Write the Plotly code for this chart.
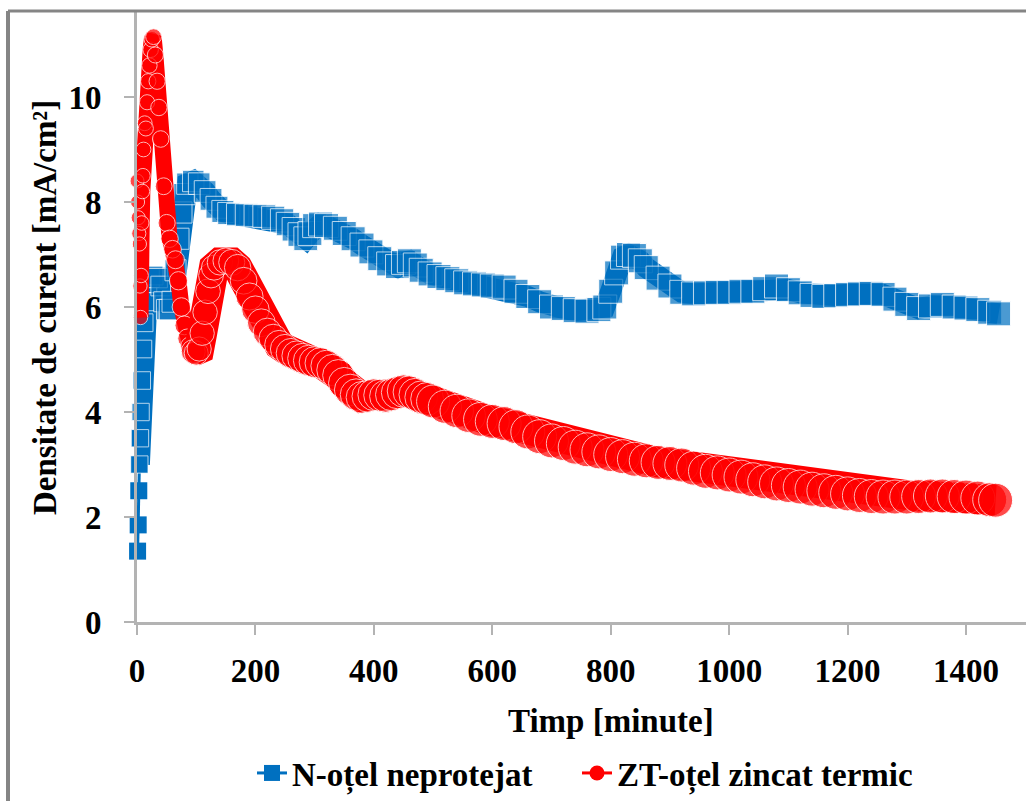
import numpy as np
import plotly.graph_objects as go

# ---------------- data ----------------
n_time = [1, 2, 3, 4, 5, 6, 8, 10, 12, 15, 18, 22, 28, 35, 40, 45, 50, 55, 60, 65, 70, 75, 80, 85,
          95, 105, 115, 125, 135, 145, 155, 170, 185, 200, 215, 230, 245, 255, 265, 275, 285, 292,
          300, 310, 320, 335, 350, 365, 380, 395, 410, 425, 440, 450, 460, 470, 480, 495, 510, 525,
          540, 555, 570, 585, 600, 620, 640, 660, 680, 700, 720, 740, 760, 780, 790, 800, 810, 820,
          830, 840, 850, 860, 880, 900, 920, 940, 960, 980, 1000, 1020, 1040, 1060, 1080, 1100,
          1120, 1140, 1160, 1180, 1200, 1220, 1240, 1260, 1280, 1300, 1320, 1340, 1360, 1380, 1400,
          1420, 1440, 1455]
n_val = [1.35, 1.85, 2.5, 3.0, 3.5, 4.0, 4.6, 5.2, 5.7, 6.1, 6.45, 6.55, 6.6, 6.55, 6.4, 6.1, 5.95,
         5.95, 6.1, 6.7, 7.3, 7.8, 8.15, 8.35, 8.4, 8.35, 8.2, 8.05, 7.9, 7.82, 7.78, 7.76, 7.75,
         7.74, 7.73, 7.7, 7.65, 7.58, 7.48, 7.38, 7.3, 7.4, 7.55, 7.58, 7.55, 7.5, 7.4, 7.3, 7.18,
         7.05, 6.92, 6.82, 6.77, 6.85, 6.88, 6.8, 6.7, 6.63, 6.58, 6.54, 6.5, 6.46, 6.44, 6.42, 6.4,
         6.38, 6.3, 6.2, 6.1, 6.0, 5.97, 5.93, 5.92, 5.95, 6.0, 6.3, 6.65, 6.95, 7.0, 6.98, 6.88,
         6.75, 6.55, 6.4, 6.28, 6.25, 6.27, 6.28, 6.28, 6.3, 6.3, 6.35, 6.4, 6.33, 6.27, 6.22, 6.2,
         6.22, 6.24, 6.25, 6.26, 6.24, 6.15, 6.05, 5.97, 6.02, 6.05, 6.0, 5.98, 5.95, 5.9, 5.87]

zt_time = [0, 1, 2, 3, 4, 5, 6, 7, 8, 9, 10, 11, 13, 15, 17, 19, 21, 23, 25, 28, 31, 34, 37, 40,
           45, 50, 55, 60, 65, 70, 75, 80, 85, 90, 95, 100, 105, 110, 115, 120, 125, 130, 140, 150,
           160, 170, 180, 190, 200, 210, 220, 230, 240, 250, 260, 270, 280, 290, 300, 310, 320, 330,
           340, 350, 360, 370, 380, 390, 400, 410, 420, 430, 440, 450, 460, 470, 480, 490, 500, 520,
           540, 560, 580, 600, 620, 640, 660, 680, 700, 720, 740, 760, 780, 800, 820, 840, 860, 880,
           900, 920, 940, 960, 980, 1000, 1020, 1040, 1060, 1080, 1100, 1120, 1140, 1160, 1180,
           1200, 1220, 1240, 1260, 1280, 1300, 1320, 1340, 1360, 1380, 1400, 1420, 1440, 1450]
zt_val = [8.4, 8.0, 7.7, 7.4, 7.2, 6.4, 5.8, 6.6, 7.6, 8.2, 8.5, 9.0, 9.5, 9.4, 9.9, 10.3, 10.6,
          10.9, 11.1, 11.15, 10.8, 10.3, 9.8, 9.2, 8.3, 7.6, 7.3, 7.1, 6.9, 6.5, 6.0, 5.65, 5.4,
          5.25, 5.15, 5.12, 5.2, 5.5, 5.9, 6.3, 6.6, 6.75, 6.85, 6.88, 6.85, 6.75, 6.5, 6.2, 5.95,
          5.7, 5.52, 5.4, 5.28, 5.2, 5.12, 5.07, 5.02, 4.98, 4.95, 4.93, 4.88, 4.8, 4.7, 4.55, 4.42,
          4.33, 4.28, 4.3, 4.33, 4.32, 4.3, 4.33, 4.37, 4.4, 4.38, 4.33, 4.28, 4.25, 4.2, 4.1, 4.02,
          3.93, 3.86, 3.82, 3.78, 3.72, 3.62, 3.53, 3.45, 3.4, 3.33, 3.28, 3.24, 3.19, 3.15, 3.1,
          3.07, 3.04, 3.02, 2.99, 2.93, 2.87, 2.84, 2.8, 2.76, 2.71, 2.67, 2.63, 2.6, 2.57, 2.53,
          2.5, 2.47, 2.44, 2.41, 2.39, 2.38, 2.38, 2.38, 2.39, 2.4, 2.4, 2.39, 2.38, 2.36, 2.33,
          2.32]

x_ticks = [0, 200, 400, 600, 800, 1000, 1200, 1400]
y_ticks = [0, 2, 4, 6, 8, 10]

name_n = "N-oțel neprotejat"
name_zt = "ZT-oțel zincat termic"
x_title = "Timp [minute]"
y_title = "Densitate de curent [mA/cm²]"

# ---------------- styles ----------------
BLUE = "#0070C0"
RED = "#FF0000"
FONT = dict(family="Liberation Serif, Times New Roman, serif", size=33, color="black", weight="bold")

n_t = np.array(n_time, dtype=float)
zt_t = np.array(zt_time, dtype=float)
n_sizes = np.interp(n_t, [0, 60, 300], [17, 21, 24])
zt_sizes_early = np.interp(zt_t, [0, 30, 100], [14, 16, 20])
zt_sizes_late = np.interp(zt_t, [100, 300, 600], [24, 31, 34])

fig = go.Figure()

# blue: first discrete readings (thin connecting line)
k = 4
fig.add_trace(go.Scatter(
    x=n_time[:k + 1], y=n_val[:k + 1], mode="lines+markers",
    line=dict(color=BLUE, width=3),
    marker=dict(symbol="square", size=17, color=BLUE),
    showlegend=False, cliponaxis=False, hoverinfo="skip"))
# blue: dense band
fig.add_trace(go.Scatter(
    x=n_time[k - 1:], y=n_val[k - 1:], mode="lines+markers",
    line=dict(color=BLUE, width=21),
    marker=dict(symbol="square", size=n_sizes[k - 1:], color=BLUE),
    showlegend=False, cliponaxis=False, hoverinfo="skip"))

# red: early part (narrower band)
split = zt_time.index(100)
fig.add_trace(go.Scatter(
    x=zt_time[:split + 1], y=zt_val[:split + 1], mode="lines+markers",
    line=dict(color=RED, width=16),
    marker=dict(symbol="circle", size=zt_sizes_early[:split + 1], color=RED),
    showlegend=False, cliponaxis=False, hoverinfo="skip"))
# red: later part (wider, noisy band)
fig.add_trace(go.Scatter(
    x=zt_time[split - 1:], y=zt_val[split - 1:], mode="lines+markers",
    line=dict(color=RED, width=30),
    marker=dict(symbol="circle", size=zt_sizes_late[split - 1:], color=RED),
    showlegend=False, cliponaxis=False, hoverinfo="skip"))

# legend entries (one legend each, so both can be placed exactly)
fig.add_trace(go.Scatter(x=[None], y=[None], mode="lines+markers", name=name_n, legend="legend",
                         line=dict(color=BLUE, width=3),
                         marker=dict(symbol="square", size=16, color=BLUE)))
fig.add_trace(go.Scatter(x=[None], y=[None], mode="lines+markers", name=name_zt, legend="legend2",
                         line=dict(color=RED, width=3),
                         marker=dict(symbol="circle", size=15, color=RED)))

L, T, W, H = 137, 12, 889, 610
x_max = 1400 * W / (966 - 137)
y_max = H / 52.5

axis_common = dict(showgrid=False, zeroline=False, showline=True, linecolor="#b3b3b3", linewidth=3,
                   ticks="outside", tickcolor="#b3b3b3", tickwidth=2, ticklen=10,
                   tickfont=FONT, mirror=False)

fig.update_xaxes(range=[0, x_max], tickvals=x_ticks, ticktext=[str(v) for v in x_ticks],
                 ticklabelstandoff=7, **axis_common)
fig.update_yaxes(range=[0, y_max], tickvals=y_ticks, ticktext=[str(v) for v in y_ticks],
                 ticklabelstandoff=16, **axis_common)


def px_to_paper_x(px):
    return (px - L) / W


def px_to_paper_y(py):
    return (T + H - py) / H


fig.add_annotation(text=x_title, xref="paper", yref="paper", x=px_to_paper_x(611), y=px_to_paper_y(721),
                   showarrow=False, font=FONT, xanchor="center", yanchor="middle")
fig.add_annotation(text=y_title, xref="paper", yref="paper", x=px_to_paper_x(45), y=px_to_paper_y(308),
                   showarrow=False, font=FONT, textangle=-90, xanchor="center", yanchor="middle")

# outer chart frame (left and top edges visible)
fig.add_shape(type="line", xref="paper", yref="paper",
              x0=px_to_paper_x(8), x1=px_to_paper_x(8), y0=px_to_paper_y(11), y1=px_to_paper_y(820),
              line=dict(color="#858585", width=4))
fig.add_shape(type="line", xref="paper", yref="paper",
              x0=px_to_paper_x(8), x1=px_to_paper_x(1040), y0=px_to_paper_y(11), y1=px_to_paper_y(11),
              line=dict(color="#858585", width=3))

legend_common = dict(orientation="h", xanchor="left", yanchor="middle", font=FONT,
                     bgcolor="rgba(0,0,0,0)", itemwidth=30, y=px_to_paper_y(773))

fig.update_layout(
    width=1026, height=801,
    margin=dict(l=L, r=1026 - L - W, t=T, b=801 - T - H, pad=0),
    paper_bgcolor="white", plot_bgcolor="white",
    font=FONT,
    legend=dict(x=px_to_paper_x(252), **legend_common),
    legend2=dict(x=px_to_paper_x(577), **legend_common),
)

fig.write_html("out.html", config={"displayModeBar": False},
               post_script="document.body.style.margin='0';document.body.style.overflow='hidden';")
